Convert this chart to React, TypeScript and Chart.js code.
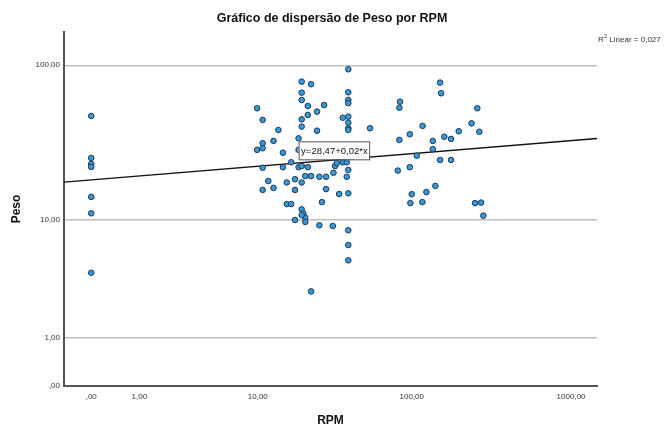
import React, { useEffect, useRef } from "react";
import { Chart, registerables } from "chart.js";

Chart.register(...registerables);

// Raw data (RPM, Peso)
const RPM: number[] = [
  0, 0, 0, 0, 0, 0, 0,
  9.9, 10.8, 13.8, 12.8, 10.8, 10.8, 9.9, 14.8, 18.8, 18.8,
  19.7, 22.7, 19.7, 19.7, 21.6, 27.6, 24.8, 21.6, 19.7, 19.7, 24.8,
  39.5, 39.5, 39.5, 39.5, 36.4, 39.5, 39.5, 39.5, 39.5, 54.4,
  10.8, 14.8, 16.8, 18.8, 19.7, 21.6, 20.8, 22.7, 25.7, 28.4, 31.7, 32.5, 33.3, 36.4, 38.6, 39.5, 38.6,
  11.8, 12.8, 10.8, 15.7, 17.8, 19.7, 17.8, 28.4, 34.5, 39.5,
  15.7, 16.8, 26.7, 19.7, 20.2, 20.8, 19.7, 17.8, 20.8, 25.7, 31.4, 39.5, 39.5, 39.5, 22.7,
  150.8, 153, 84.3, 83.5, 258.5, 238, 117, 197.6, 266, 97.2, 83.5, 160.4, 176.8, 135.7, 135.7,
  107.6, 151, 176.8, 81.6, 97.2, 140.9, 100, 123.7, 98, 116.7, 250, 273, 282,
];
const PESO: number[] = [
  47.7, 25.6, 23.4, 22.4, 14.2, 11, 4.1,
  53.4, 45, 38.8, 33, 31.9, 29.6, 28.9, 27.7, 34.3, 28.9,
  78.8, 75.9, 67.1, 60.3, 55.2, 56, 50.8, 48.4, 45.4, 40.8, 38.4,
  94.3, 67.5, 60.3, 57.5, 46.5, 47.2, 43.2, 39.8, 38.8, 39.8,
  22.1, 22.3, 24, 22.3, 22.7, 22.3, 19.5, 19.5, 19.3, 19.3, 20.5, 22.7, 23.7, 24, 24, 21.4, 19.3,
  18.1, 16.3, 15.8, 17.7, 18.6, 17.7, 15.8, 16, 14.85, 15,
  12.7, 12.7, 13.1, 11.7, 11, 10.3, 10.7, 9.9, 9.6, 9.1, 9, 8.4, 6.6, 5.1, 2.9,
  77.7, 66.5, 58.8, 53.8, 53.4, 42.8, 41.2, 38.1, 37.8, 36.4, 33.5, 35.1, 34, 33, 29.2,
  26.5, 24.85, 24.85, 21.2, 22.3, 16.8, 14.8, 15.3, 12.9, 13.1, 12.9, 13, 10.6,
];

// Fit line endpoints as drawn (raw values)
const LINE_RPM: number[] = [-0.48, 1453];
const LINE_PESO: number[] = [17.8, 34.2];

const X_TICKS: number[] = [0, 1, 10, 100, 1000];
const X_TICK_LABELS: string[] = [",00", "1,00", "10,00", "100,00", "1000,00"];
const Y_TICKS: number[] = [0, 1, 10, 100];
const Y_TICK_LABELS: string[] = [",00", "1,00", "10,00", "100,00"];

const X_RANGE: number[] = [-0.48, 1453];
const Y_RANGE: number[] = [0, 162];

const TITLE = "Gráfico de dispersão de Peso por RPM";
const X_TITLE = "RPM";
const Y_TITLE = "Peso";
const EQUATION = "y=28,47+0,02*x";
const EQ_AT: number[] = [18.8, 28.7];
const R2_TEXT = " Linear = 0,027";

// SPSS "safe log" transform
const slog = (v: number) => (v >= 0 ? Math.log10(v + 1) : -Math.log10(1 - v));

const FONT = "'Liberation Sans', Arial, sans-serif";

export default function App() {
  const ref = useRef<HTMLCanvasElement | null>(null);

  useEffect(() => {
    document.body.style.margin = "0";
    if (!ref.current) return;

    const textPlugin = {
      id: "texts",
      afterDatasetsDraw(chart: any) {
        const ctx = chart.ctx;
        const xs = chart.scales.x;
        const ys = chart.scales.y;
        ctx.save();
        // equation box
        const bx = xs.getPixelForValue(slog(EQ_AT[0]));
        const by = ys.getPixelForValue(slog(EQ_AT[1]));
        ctx.font = `9.5px ${FONT}`;
        const tw = ctx.measureText(EQUATION).width;
        const bw = tw + 4;
        const bh = 18;
        ctx.fillStyle = "#ffffff";
        ctx.fillRect(bx, by - bh / 2, bw, bh);
        ctx.strokeStyle = "#555555";
        ctx.lineWidth = 1;
        ctx.strokeRect(bx + 0.5, by - bh / 2 + 0.5, bw, bh);
        ctx.fillStyle = "#111111";
        ctx.textAlign = "left";
        ctx.textBaseline = "middle";
        ctx.fillText(EQUATION, bx + 2.5, by + 1);
        ctx.restore();
      },
      afterDraw(chart: any) {
        const ctx = chart.ctx;
        const area = chart.chartArea;
        ctx.save();
        ctx.fillStyle = "#111111";
        ctx.textAlign = "center";
        ctx.textBaseline = "middle";
        ctx.font = `bold 12.5px ${FONT}`;
        ctx.fillText(TITLE, chart.width / 2, 19);

        ctx.font = `bold 12px ${FONT}`;
        ctx.fillText(X_TITLE, (area.left + area.right) / 2, 421);

        ctx.save();
        ctx.translate(17, (area.top + area.bottom) / 2);
        ctx.rotate(-Math.PI / 2);
        ctx.fillText(Y_TITLE, 0, 0);
        ctx.restore();

        // R² label
        ctx.fillStyle = "#333333";
        ctx.textAlign = "left";
        ctx.textBaseline = "alphabetic";
        ctx.font = `8px ${FONT}`;
        const x0 = area.right + 1;
        ctx.fillText("R", x0, 42);
        const rw = ctx.measureText("R").width;
        ctx.font = `5.5px ${FONT}`;
        ctx.fillText("2", x0 + rw + 0.3, 38);
        const sw = ctx.measureText("2").width;
        ctx.font = `8px ${FONT}`;
        ctx.fillText(R2_TEXT, x0 + rw + sw + 0.3, 42);
        ctx.restore();
      },
    };

    const chart = new Chart(ref.current, {
      type: "scatter",
      data: {
        datasets: [
          {
            type: "scatter",
            data: RPM.map((r, i) => ({ x: slog(r), y: slog(PESO[i]) })),
            backgroundColor: "#3a98d6",
            borderColor: "#1b3a57",
            borderWidth: 1,
            pointRadius: 2.8,
            order: 1,
          },
          {
            type: "line",
            data: LINE_RPM.map((r, i) => ({ x: slog(r), y: slog(LINE_PESO[i]) })),
            borderColor: "#111111",
            borderWidth: 1.3,
            pointRadius: 0,
            fill: false,
            order: 2,
          } as any,
        ],
      },
      options: {
        animation: false,
        responsive: true,
        maintainAspectRatio: false,
        layout: { padding: { top: 32, right: 67, left: 0, bottom: 0 } },
        plugins: {
          legend: { display: false },
          tooltip: { enabled: false },
          title: { display: false },
        },
        scales: {
          x: {
            type: "linear",
            min: slog(X_RANGE[0]),
            max: slog(X_RANGE[1]),
            afterBuildTicks: (scale: any) => {
              scale.ticks = X_TICKS.map((v) => ({ value: slog(v) }));
            },
            afterFit: (scale: any) => {
              scale.height = 41;
            },
            ticks: {
              autoSkip: false,
              maxRotation: 0,
              padding: 6,
              color: "#333333",
              font: { family: FONT, size: 8 },
              callback: (_v: any, i: number) => X_TICK_LABELS[i],
            },
            grid: { color: "rgba(0,0,0,0)", drawTicks: false },
            border: { display: true, color: "#555555", width: 2 },
          },
          y: {
            type: "linear",
            min: slog(Y_RANGE[0]),
            max: slog(Y_RANGE[1]),
            afterBuildTicks: (scale: any) => {
              scale.ticks = Y_TICKS.map((v) => ({ value: slog(v) }));
            },
            afterFit: (scale: any) => {
              scale.width = 64;
            },
            ticks: {
              autoSkip: false,
              padding: 4,
              color: "#333333",
              font: { family: FONT, size: 8 },
              callback: (_v: any, i: number) => Y_TICK_LABELS[i],
            },
            grid: {
              drawTicks: false,
              lineWidth: 1.5,
              color: (c: any) => (c.tick && c.tick.value === 0 ? "rgba(0,0,0,0)" : "#bdbdbd"),
            },
            border: { display: true, color: "#555555", width: 2 },
          },
        },
      } as any,
      plugins: [textPlugin],
    });

    return () => chart.destroy();
  }, []);

  return (
    <div style={{ width: 664, height: 427, position: "relative" }}>
      <canvas ref={ref} />
    </div>
  );
}
